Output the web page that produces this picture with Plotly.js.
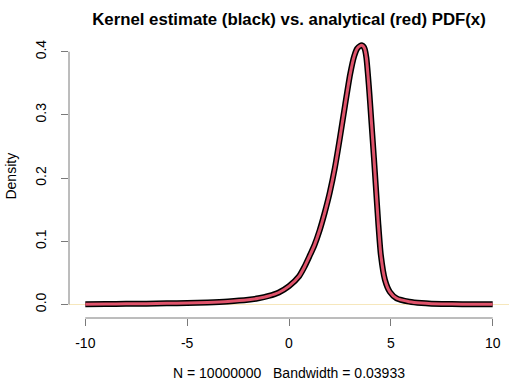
<!DOCTYPE html>
<html>
<head>
<meta charset="utf-8">
<script src="https://cdn.plot.ly/plotly-3.0.1.min.js"></script>
<style>html,body{margin:0;padding:0;background:#fff;}#chart{width:512px;height:384px;}</style>
</head>
<body>
<div id="chart"></div>
<script>
// Density curve
var xValues = [-10, -9, -8, -7, -6, -5, -4, -3, -2, -1.5, -1, -0.5, 0, 0.5, 0.75, 1.0, 1.25, 1.5, 1.75, 2.0, 2.25, 2.5, 2.75, 3.0, 3.2, 3.35, 3.48, 3.59, 3.66, 3.72, 3.8, 3.88, 3.95, 4.05, 4.17, 4.26, 4.38, 4.51, 4.71, 4.95, 5.28, 5.9, 6.5, 7, 8, 9, 10];
var densityValues = [0.0005, 0.0007, 0.001, 0.0013, 0.0018, 0.0024, 0.0033, 0.0048, 0.0075, 0.0098, 0.0135, 0.019, 0.029, 0.045, 0.059, 0.076, 0.094, 0.117, 0.145, 0.177, 0.216, 0.264, 0.315, 0.364, 0.393, 0.405, 0.409, 0.41, 0.408, 0.404, 0.39, 0.362, 0.333, 0.287, 0.232, 0.188, 0.130, 0.078, 0.039, 0.020, 0.0098, 0.0045, 0.0022, 0.0013, 0.0006, 0.0003, 0.0002];
var xTicks = [-10, -5, 0, 5, 10];
var yTicks = [0, 0.1, 0.2, 0.3, 0.4];
var titleText = "Kernel estimate (black) vs. analytical (red) PDF(x)";
var xLabel = "N = 10000000   Bandwidth = 0.03933";
var yLabel = "Density";

var font = "Liberation Sans, Arial, Helvetica, sans-serif";
var axisCol = "#7a7a7a";

var traces = [
  {x: xValues, y: densityValues, type: "scatter", mode: "lines",
   line: {color: "#000000", width: 6, shape: "spline", smoothing: 0.6}, hoverinfo: "skip"},
  {x: xValues, y: densityValues, type: "scatter", mode: "lines",
   line: {color: "#DF536B", width: 3, shape: "spline", smoothing: 0.6}, hoverinfo: "skip"}
];

var layout = {
  width: 512, height: 384,
  margin: {l: 69, r: 3, t: 35, b: 66},
  paper_bgcolor: "#ffffff", plot_bgcolor: "#ffffff",
  showlegend: false,
  font: {family: font, size: 14, color: "#000"},
  title: {text: "<b>" + titleText + "</b>", font: {family: font, size: 16.8, color: "#000"},
          x: 0.5, xref: "paper", xanchor: "center", y: 0.95, yref: "container", yanchor: "middle"},
  xaxis: {range: [-10.8, 10.8], tickvals: xTicks, ticktext: xTicks.map(String),
          ticks: "outside", ticklen: 7, tickcolor: axisCol, tickwidth: 1,
          showline: false, zeroline: false, showgrid: false, ticklabelstandoff: 5,
          tickfont: {family: font, size: 14, color: "#000"}},
  yaxis: {range: [-0.02136, 0.4264], tickvals: yTicks, tickformat: ".1f",
          ticks: "outside", ticklen: 7, tickcolor: axisCol, tickwidth: 1,
          showline: false, zeroline: false, showgrid: false, tickangle: -90, ticklabelstandoff: 9,
          tickfont: {family: font, size: 14, color: "#000"}},
  shapes: [
    {type: "line", xref: "paper", yref: "y", x0: 0, x1: 1, y0: 0, y1: 0,
     line: {color: "#F6E7BC", width: 1}, layer: "below"},
    {type: "line", xref: "x", yref: "paper", x0: xTicks[0], x1: xTicks[xTicks.length - 1], y0: 0, y1: 0,
     line: {color: axisCol, width: 1}},
    {type: "line", xref: "paper", yref: "y", x0: 0, x1: 0, y0: yTicks[0], y1: yTicks[yTicks.length - 1],
     line: {color: axisCol, width: 1}}
  ],
  annotations: [
    {text: xLabel, xref: "paper", yref: "paper", x: 0.5, y: -0.194, xanchor: "center", yanchor: "middle",
     showarrow: false, font: {family: font, size: 14, color: "#000"}},
    {text: yLabel, xref: "paper", yref: "paper", x: -0.134, y: 0.5, xanchor: "center", yanchor: "middle",
     textangle: -90, showarrow: false, font: {family: font, size: 14, color: "#000"}}
  ]
};

Plotly.newPlot("chart", traces, layout, {staticPlot: true, displayModeBar: false});
</script>
</body>
</html>
